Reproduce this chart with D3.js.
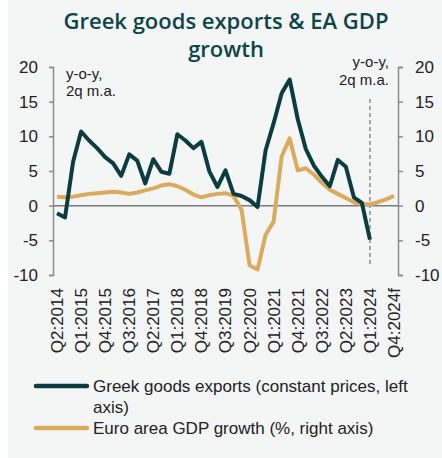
<!DOCTYPE html>
<html>
<head>
<meta charset="utf-8">
<script src="https://cdn.jsdelivr.net/npm/d3@7"></script>
<style>
  body { margin: 0; background: #fff; }
  svg { display: block; }
  .tick text { font-family: "Liberation Sans", Arial, sans-serif; font-size: 17px; fill: #222; }
  .axis path, .axis line { stroke: #8a8a8a; stroke-width: 1.5; }
</style>
</head>
<body>
<div class="chart"></div>
<script>
// Greek goods exports vs euro area GDP growth, y-o-y 2q moving average
var quarters = [
  "Q2:2014", "Q3:2014", "Q4:2014", "Q1:2015", "Q2:2015", "Q3:2015", "Q4:2015",
  "Q1:2016", "Q2:2016", "Q3:2016", "Q4:2016", "Q1:2017", "Q2:2017", "Q3:2017",
  "Q4:2017", "Q1:2018", "Q2:2018", "Q3:2018", "Q4:2018", "Q1:2019", "Q2:2019",
  "Q3:2019", "Q4:2019", "Q1:2020", "Q2:2020", "Q3:2020", "Q4:2020", "Q1:2021",
  "Q2:2021", "Q3:2021", "Q4:2021", "Q1:2022", "Q2:2022", "Q3:2022", "Q4:2022",
  "Q1:2023", "Q2:2023", "Q3:2023", "Q4:2023", "Q1:2024", "Q2:2024f", "Q3:2024f",
  "Q4:2024f"
];

// shown every third quarter
var tickLabels = ["Q2:2014", "Q1:2015", "Q4:2015", "Q3:2016", "Q2:2017", "Q1:2018",
  "Q4:2018", "Q3:2019", "Q2:2020", "Q1:2021", "Q4:2021", "Q3:2022", "Q2:2023",
  "Q1:2024", "Q4:2024f"];

var greekExports = [
  -1.1, -1.7, 6.3, 10.7, 9.4, 8.3, 7.0, 6.1, 4.3, 7.4, 6.5, 3.2, 6.7, 4.9,
  4.6, 10.3, 9.4, 8.3, 9.2, 4.9, 2.7, 5.1, 1.7, 1.4, 0.8, -0.2, 8.0, 11.9,
  16.2, 18.2, 12.5, 8.2, 5.8, 4.2, 2.8, 6.6, 5.6, 1.2, 0.4, -4.9
];

var euroGdp = [
  1.3, 1.2, 1.3, 1.5, 1.7, 1.8, 1.9, 2.0, 1.9, 1.7, 1.9, 2.2, 2.5, 2.9,
  3.1, 2.8, 2.3, 1.6, 1.2, 1.5, 1.7, 1.8, 1.4, -0.6, -8.6, -9.2, -4.2, -2.3,
  7.1, 9.7, 5.1, 5.4, 4.5, 3.3, 2.3, 1.7, 1.1, 0.5, 0.2, 0.2, 0.5, 0.9, 1.4
];

var yTicks = [-10, -5, 0, 5, 10, 15, 20];
var forecastStart = "Q1:2024";

var legendItems = [
  { lines: ["Greek goods exports (constant prices, left", "axis)"], color: "#0b3d40" },
  { lines: ["Euro area GDP growth (%, right axis)"], color: "#dcaa5c" }
];

var svgWidth = 442;
var svgHeight = 458;

var svg = d3.select(".chart")
    .append("svg")
    .attr("width", svgWidth)
    .attr("height", svgHeight);

svg.append("rect")
    .attr("x", 8)
    .attr("y", 0)
    .attr("width", svgWidth - 8)
    .attr("height", svgHeight)
    .attr("fill", "#f4f6f6");

// title
var title = svg.append("text")
    .attr("text-anchor", "middle")
    .style("font-family", "'Open Sans', sans-serif")
    .style("font-weight", 600)
    .style("font-size", "22px")
    .attr("fill", "#0e4547");
title.append("tspan").attr("x", 226).attr("y", 29).text("Greek goods exports & EA GDP");
title.append("tspan").attr("x", 226).attr("y", 57).text("growth");

var xScale = d3.scalePoint()
    .domain(quarters)
    .range([53, 398])
    .padding(0.5);

var yLeft = d3.scaleLinear().domain([-10, 20]).range([275, 67]);
var yRight = d3.scaleLinear().domain([-10, 20]).range([275, 67]);

// plain hyphen for negatives, like the original
var plain = function(d) { return String(d); };

var leftAxis = d3.axisLeft(yLeft).tickValues(yTicks).tickFormat(plain).tickSize(4).tickPadding(11);
var rightAxis = d3.axisRight(yRight).tickValues(yTicks).tickFormat(plain).tickSize(5).tickPadding(12);

svg.append("g")
    .attr("class", "axis")
    .attr("transform", "translate(53,0)")
    .call(leftAxis);

svg.append("g")
    .attr("class", "axis")
    .attr("transform", "translate(398,0)")
    .call(rightAxis);

// zero line
svg.append("line")
    .attr("x1", 53)
    .attr("x2", 398)
    .attr("y1", yLeft(0))
    .attr("y2", yLeft(0))
    .attr("stroke", "#7a7a7a")
    .attr("stroke-width", 1.5);

// x labels, rotated
svg.selectAll(".x-label")
    .data(tickLabels)
    .enter()
    .append("text")
    .attr("class", "x-label")
    .attr("transform", function(d) {
        return "translate(" + xScale(d) + ",288) rotate(-90)";
    })
    .attr("text-anchor", "end")
    .attr("dy", "0.35em")
    .style("font-family", "'Liberation Sans', Arial, sans-serif")
    .style("font-size", "17px")
    .attr("fill", "#222")
    .text(function(d) { return d; });

// forecast marker
svg.append("line")
    .attr("x1", xScale(forecastStart))
    .attr("x2", xScale(forecastStart))
    .attr("y1", yLeft(15.4))
    .attr("y2", yLeft(-8.6))
    .attr("stroke", "#8a8a8a")
    .attr("stroke-width", 1.5)
    .attr("stroke-dasharray", "4,3");

var gdpLine = d3.line()
    .x(function(d, i) { return xScale(quarters[i]); })
    .y(function(d) { return yRight(d); });

var exportsLine = d3.line()
    .x(function(d, i) { return xScale(quarters[i]); })
    .y(function(d) { return yLeft(d); });

svg.append("path")
    .datum(euroGdp)
    .attr("d", gdpLine)
    .attr("fill", "none")
    .attr("stroke", "#dcaa5c")
    .attr("stroke-width", 4)
    .attr("stroke-linejoin", "round");

svg.append("path")
    .datum(greekExports)
    .attr("d", exportsLine)
    .attr("fill", "none")
    .attr("stroke", "#0b3d40")
    .attr("stroke-width", 4)
    .attr("stroke-linejoin", "round");

// unit notes
var noteFont = "'Liberation Sans', Arial, sans-serif";
var leftNote = svg.append("text")
    .style("font-family", noteFont)
    .style("font-size", "15px")
    .attr("fill", "#222");
leftNote.append("tspan").attr("x", 66).attr("y", 79).text("y-o-y,");
leftNote.append("tspan").attr("x", 66).attr("y", 96).text("2q m.a.");

var rightNote = svg.append("text")
    .attr("text-anchor", "end")
    .style("font-family", noteFont)
    .style("font-size", "15px")
    .attr("fill", "#222");
rightNote.append("tspan").attr("x", 389).attr("y", 67).text("y-o-y,");
rightNote.append("tspan").attr("x", 389).attr("y", 85).text("2q m.a.");

// legend
var legendY = [386, 428];
legendItems.forEach(function(item, i) {
    var g = svg.append("g");
    g.append("line")
        .attr("x1", 36)
        .attr("x2", 87)
        .attr("y1", legendY[i])
        .attr("y2", legendY[i])
        .attr("stroke", item.color)
        .attr("stroke-width", 4.5)
        .attr("stroke-linecap", "round");
    var t = g.append("text")
        .style("font-family", noteFont)
        .style("font-size", "17px")
        .attr("fill", "#222");
    item.lines.forEach(function(line, j) {
        t.append("tspan")
            .attr("x", 93)
            .attr("y", legendY[i] + 6 + j * 21)
            .text(line);
    });
});
</script>
</body>
</html>
